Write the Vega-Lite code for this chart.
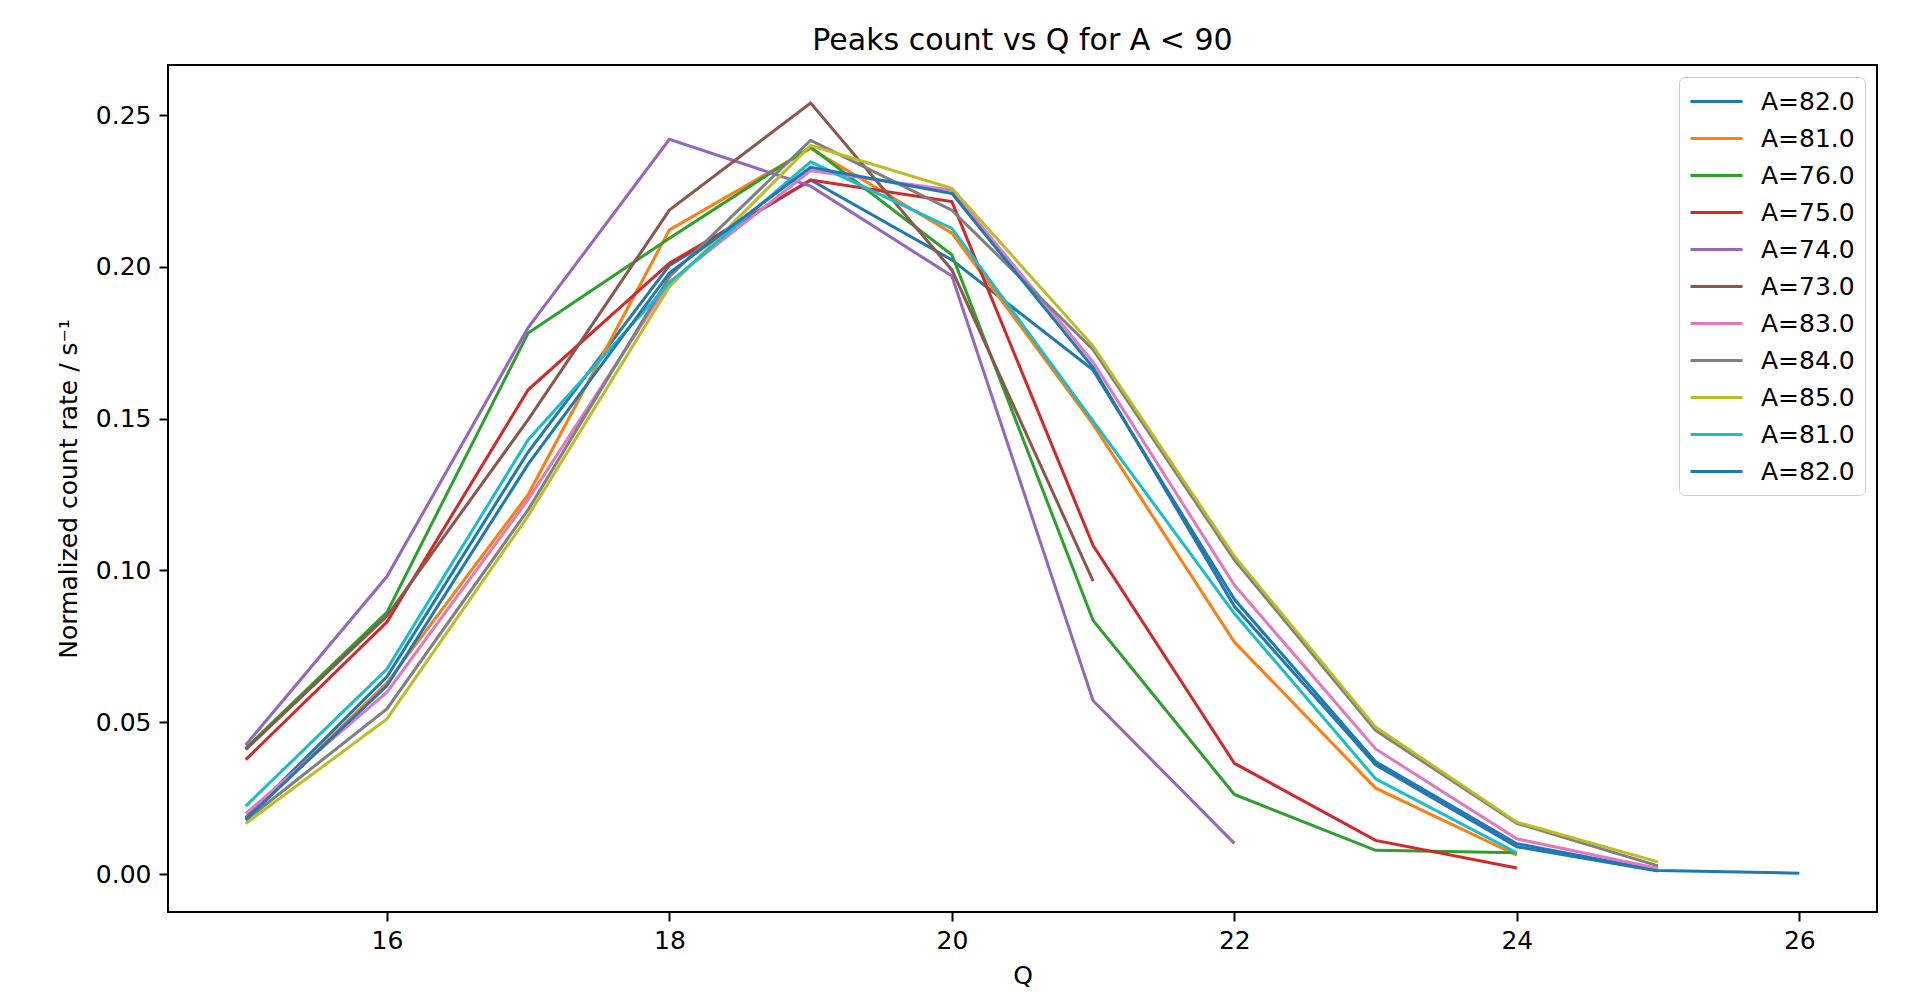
{
  "$schema": "https://vega.github.io/schema/vega-lite/v6.json",
  "width": 1709,
  "height": 847,
  "autosize": {"type": "none"},
  "padding": {"left": 168, "top": 65, "right": 40, "bottom": 96},
  "background": "white",
  "title": {"text": "Peaks count vs Q for A < 90", "font": "DejaVu Sans", "fontSize": 30, "fontWeight": "normal", "color": "#000000", "offset": 9, "anchor": "middle"},
  "config": {
    "font": "DejaVu Sans",
    "view": {"stroke": "#000000", "strokeWidth": 2},
    "axis": {"grid": false, "domain": false, "tickColor": "#000000", "tickSize": 9, "tickWidth": 2, "labelFont": "DejaVu Sans", "labelFontSize": 25, "labelColor": "#000000", "titleFont": "DejaVu Sans", "titleFontSize": 25, "titleFontWeight": "normal", "titleColor": "#000000"}
  },
  "data": {"values": [
    {"s": "01 A=82.0", "Q": 15, "r": 0.0185}, {"s": "01 A=82.0", "Q": 16, "r": 0.065}, {"s": "01 A=82.0", "Q": 17, "r": 0.139}, {"s": "01 A=82.0", "Q": 18, "r": 0.2005}, {"s": "01 A=82.0", "Q": 19, "r": 0.2286}, {"s": "01 A=82.0", "Q": 20, "r": 0.2023}, {"s": "01 A=82.0", "Q": 21, "r": 0.166}, {"s": "01 A=82.0", "Q": 22, "r": 0.0905}, {"s": "01 A=82.0", "Q": 23, "r": 0.037}, {"s": "01 A=82.0", "Q": 24, "r": 0.01}, {"s": "01 A=82.0", "Q": 25, "r": 0.0012}, {"s": "01 A=82.0", "Q": 26, "r": 0.0003},
    {"s": "02 A=81.0", "Q": 15, "r": 0.018}, {"s": "02 A=81.0", "Q": 16, "r": 0.063}, {"s": "02 A=81.0", "Q": 17, "r": 0.125}, {"s": "02 A=81.0", "Q": 18, "r": 0.2122}, {"s": "02 A=81.0", "Q": 19, "r": 0.239}, {"s": "02 A=81.0", "Q": 20, "r": 0.2111}, {"s": "02 A=81.0", "Q": 21, "r": 0.1481}, {"s": "02 A=81.0", "Q": 22, "r": 0.0764}, {"s": "02 A=81.0", "Q": 23, "r": 0.0283}, {"s": "02 A=81.0", "Q": 24, "r": 0.0062},
    {"s": "03 A=76.0", "Q": 15, "r": 0.0414}, {"s": "03 A=76.0", "Q": 16, "r": 0.0862}, {"s": "03 A=76.0", "Q": 17, "r": 0.1782}, {"s": "03 A=76.0", "Q": 18, "r": 0.2094}, {"s": "03 A=76.0", "Q": 19, "r": 0.2395}, {"s": "03 A=76.0", "Q": 20, "r": 0.204}, {"s": "03 A=76.0", "Q": 21, "r": 0.0835}, {"s": "03 A=76.0", "Q": 22, "r": 0.0262}, {"s": "03 A=76.0", "Q": 23, "r": 0.0078}, {"s": "03 A=76.0", "Q": 24, "r": 0.007},
    {"s": "04 A=75.0", "Q": 15, "r": 0.0377}, {"s": "04 A=75.0", "Q": 16, "r": 0.083}, {"s": "04 A=75.0", "Q": 17, "r": 0.1595}, {"s": "04 A=75.0", "Q": 18, "r": 0.2012}, {"s": "04 A=75.0", "Q": 19, "r": 0.2286}, {"s": "04 A=75.0", "Q": 20, "r": 0.2215}, {"s": "04 A=75.0", "Q": 21, "r": 0.1082}, {"s": "04 A=75.0", "Q": 22, "r": 0.0365}, {"s": "04 A=75.0", "Q": 23, "r": 0.0111}, {"s": "04 A=75.0", "Q": 24, "r": 0.002},
    {"s": "05 A=74.0", "Q": 15, "r": 0.0425}, {"s": "05 A=74.0", "Q": 16, "r": 0.098}, {"s": "05 A=74.0", "Q": 17, "r": 0.18}, {"s": "05 A=74.0", "Q": 18, "r": 0.242}, {"s": "05 A=74.0", "Q": 19, "r": 0.2266}, {"s": "05 A=74.0", "Q": 20, "r": 0.197}, {"s": "05 A=74.0", "Q": 21, "r": 0.0571}, {"s": "05 A=74.0", "Q": 22, "r": 0.0101},
    {"s": "06 A=73.0", "Q": 15, "r": 0.041}, {"s": "06 A=73.0", "Q": 16, "r": 0.085}, {"s": "06 A=73.0", "Q": 17, "r": 0.1497}, {"s": "06 A=73.0", "Q": 18, "r": 0.2187}, {"s": "06 A=73.0", "Q": 19, "r": 0.254}, {"s": "06 A=73.0", "Q": 20, "r": 0.199}, {"s": "06 A=73.0", "Q": 21, "r": 0.0965},
    {"s": "07 A=83.0", "Q": 15, "r": 0.0199}, {"s": "07 A=83.0", "Q": 16, "r": 0.0599}, {"s": "07 A=83.0", "Q": 17, "r": 0.1234}, {"s": "07 A=83.0", "Q": 18, "r": 0.195}, {"s": "07 A=83.0", "Q": 19, "r": 0.2317}, {"s": "07 A=83.0", "Q": 20, "r": 0.2253}, {"s": "07 A=83.0", "Q": 21, "r": 0.1686}, {"s": "07 A=83.0", "Q": 22, "r": 0.0952}, {"s": "07 A=83.0", "Q": 23, "r": 0.0412}, {"s": "07 A=83.0", "Q": 24, "r": 0.0116}, {"s": "07 A=83.0", "Q": 25, "r": 0.0018},
    {"s": "08 A=84.0", "Q": 15, "r": 0.0177}, {"s": "08 A=84.0", "Q": 16, "r": 0.0544}, {"s": "08 A=84.0", "Q": 17, "r": 0.12}, {"s": "08 A=84.0", "Q": 18, "r": 0.1968}, {"s": "08 A=84.0", "Q": 19, "r": 0.2417}, {"s": "08 A=84.0", "Q": 20, "r": 0.2187}, {"s": "08 A=84.0", "Q": 21, "r": 0.1727}, {"s": "08 A=84.0", "Q": 22, "r": 0.1035}, {"s": "08 A=84.0", "Q": 23, "r": 0.0473}, {"s": "08 A=84.0", "Q": 24, "r": 0.0167}, {"s": "08 A=84.0", "Q": 25, "r": 0.0027},
    {"s": "09 A=85.0", "Q": 15, "r": 0.0166}, {"s": "09 A=85.0", "Q": 16, "r": 0.0511}, {"s": "09 A=85.0", "Q": 17, "r": 0.118}, {"s": "09 A=85.0", "Q": 18, "r": 0.1935}, {"s": "09 A=85.0", "Q": 19, "r": 0.24}, {"s": "09 A=85.0", "Q": 20, "r": 0.2259}, {"s": "09 A=85.0", "Q": 21, "r": 0.1739}, {"s": "09 A=85.0", "Q": 22, "r": 0.1047}, {"s": "09 A=85.0", "Q": 23, "r": 0.0484}, {"s": "09 A=85.0", "Q": 24, "r": 0.0171}, {"s": "09 A=85.0", "Q": 25, "r": 0.004},
    {"s": "10 A=81.0", "Q": 15, "r": 0.0224}, {"s": "10 A=81.0", "Q": 16, "r": 0.0675}, {"s": "10 A=81.0", "Q": 17, "r": 0.1431}, {"s": "10 A=81.0", "Q": 18, "r": 0.1947}, {"s": "10 A=81.0", "Q": 19, "r": 0.2346}, {"s": "10 A=81.0", "Q": 20, "r": 0.2127}, {"s": "10 A=81.0", "Q": 21, "r": 0.1492}, {"s": "10 A=81.0", "Q": 22, "r": 0.0858}, {"s": "10 A=81.0", "Q": 23, "r": 0.0314}, {"s": "10 A=81.0", "Q": 24, "r": 0.007},
    {"s": "11 A=82.0", "Q": 15, "r": 0.018}, {"s": "11 A=82.0", "Q": 16, "r": 0.062}, {"s": "11 A=82.0", "Q": 17, "r": 0.135}, {"s": "11 A=82.0", "Q": 18, "r": 0.198}, {"s": "11 A=82.0", "Q": 19, "r": 0.2328}, {"s": "11 A=82.0", "Q": 20, "r": 0.2242}, {"s": "11 A=82.0", "Q": 21, "r": 0.1668}, {"s": "11 A=82.0", "Q": 22, "r": 0.0882}, {"s": "11 A=82.0", "Q": 23, "r": 0.036}, {"s": "11 A=82.0", "Q": 24, "r": 0.009}, {"s": "11 A=82.0", "Q": 25, "r": 0.001}
  ]},
  "mark": {"type": "line", "strokeWidth": 3},
  "encoding": {
    "x": {"field": "Q", "type": "quantitative", "scale": {"domain": [14.45, 26.55], "nice": false, "zero": false}, "axis": {"values": [16, 18, 20, 22, 24, 26], "title": "Q", "labelPadding": 7, "titlePadding": 10}},
    "y": {"field": "r", "type": "quantitative", "scale": {"domain": [-0.0125, 0.2665], "nice": false, "zero": false}, "axis": {"values": [0, 0.05, 0.1, 0.15, 0.2, 0.25], "format": ".2f", "title": "Normalized count rate / s⁻¹", "labelPadding": 8, "titlePadding": 14}},
    "color": {"field": "s", "type": "nominal",
      "scale": {"domain": ["01 A=82.0", "02 A=81.0", "03 A=76.0", "04 A=75.0", "05 A=74.0", "06 A=73.0", "07 A=83.0", "08 A=84.0", "09 A=85.0", "10 A=81.0", "11 A=82.0"],
                "range": ["#1f77b4", "#ff7f0e", "#2ca02c", "#d62728", "#9467bd", "#8c564b", "#e377c2", "#7f7f7f", "#bcbd22", "#17becf", "#1f77b4"]},
      "legend": {"orient": "top-right", "offset": 12, "title": null, "labelExpr": "slice(datum.label, 3)", "symbolType": "M-2,0H2", "symbolSize": 676, "symbolStrokeWidth": 3, "symbolOffset": 13, "labelFont": "DejaVu Sans", "labelFontSize": 25, "labelColor": "#000000", "labelOffset": 30, "rowPadding": 9, "padding": 10, "fillColor": "rgba(255,255,255,0.8)", "strokeColor": "#cccccc", "cornerRadius": 6, "labelLimit": 300}}
  }
}
